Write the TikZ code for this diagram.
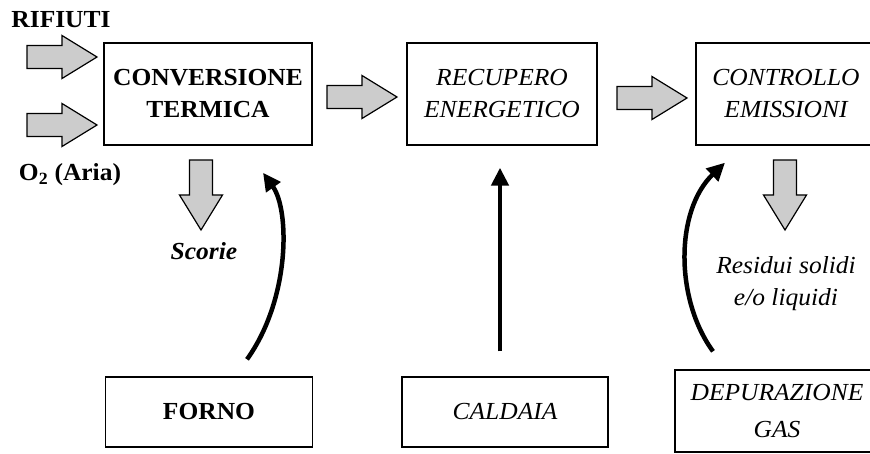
\documentclass[tikz,border=0pt]{standalone}
\usepackage{fontspec}
\setmainfont{Liberation Serif}[FakeStretch=1.04]
\usetikzlibrary{arrows.meta,calc}

\newcommand{\dfsize}{\fontsize{24.5}{32}\selectfont}

\begin{document}
\begin{tikzpicture}[x=1pt,y=-1pt,
  boxbf/.style={draw,line width=1.3pt,inner sep=0pt,align=center,font=\dfsize\bfseries},
  boxit/.style={draw,line width=1.3pt,inner sep=0pt,align=center,font=\dfsize\itshape},
  lbl/.style={inner sep=0pt,align=center,font=\dfsize},
  flow/.style={line width=4.5pt,-{Triangle[length=18pt,width=17pt]}},
  garrow/.pic={\draw[line width=1.2pt,fill=gray!40,line join=miter]
    (0,-11.5) -- (35,-11.5) -- (35,-21.5) -- (70,0) -- (35,21.5) -- (35,11.5) -- (0,11.5) -- cycle;}]

\useasboundingbox (0,0) rectangle (870,454);

% upper row
\node[boxbf,minimum width=208pt,minimum height=102pt] (conv) at (208,94) {CONVERSIONE\\TERMICA};
\node[boxit,minimum width=190pt,minimum height=102pt] (recup) at (502,94) {RECUPERO\\ENERGETICO};
\node[boxit,minimum width=180pt,minimum height=102pt] (contr) at (786,94) {CONTROLLO\\EMISSIONI};

% lower row
\node[boxbf,minimum width=207pt,minimum height=70pt] (forno) at (209,412) {FORNO};
\node[boxit,minimum width=206pt,minimum height=70pt] (caldaia) at (505,412) {CALDAIA};
\node[boxit,minimum width=204pt,minimum height=82pt] (depur) at (777,411) {DEPURAZIONE\\[5pt]GAS};

\node[lbl,font=\dfsize\bfseries] (rifiuti) at (61,20) {RIFIUTI};
\node[lbl,font=\dfsize\bfseries] (aria) at (70,175) {O\textsubscript{2} (Aria)};
\node[lbl,font=\dfsize\bfseries\itshape] (scorie) at (204,251) {Scorie};
\node[lbl,font=\dfsize\itshape] (residui) at (786,284) {Residui solidi\\e/o liquidi};

% grey block arrows
\pic at (27,57) {garrow};
\pic at (27,125) {garrow};
\pic at (327,97) {garrow};
\pic at (617,98) {garrow};
\pic[rotate=-90] at (201,160) {garrow};
\pic[rotate=-90] at (785,160) {garrow};

% black arrows
\draw[flow] ([xshift=38pt,yshift=17pt]forno.north) .. controls +(43,-60) and +(27,38) .. ([xshift=55pt,yshift=-27pt]conv.south);
\draw[flow,shorten <=25pt,shorten >=22pt] ([xshift=-5pt]caldaia.north) -- ([xshift=-5pt]caldaia.north |- recup.south);
\draw[flow] ([xshift=-64pt,yshift=18pt]depur.north) .. controls +(-38,-52) and +(-50,48) .. ([xshift=-61pt,yshift=-17pt]contr.south);

\end{tikzpicture}
\end{document}
